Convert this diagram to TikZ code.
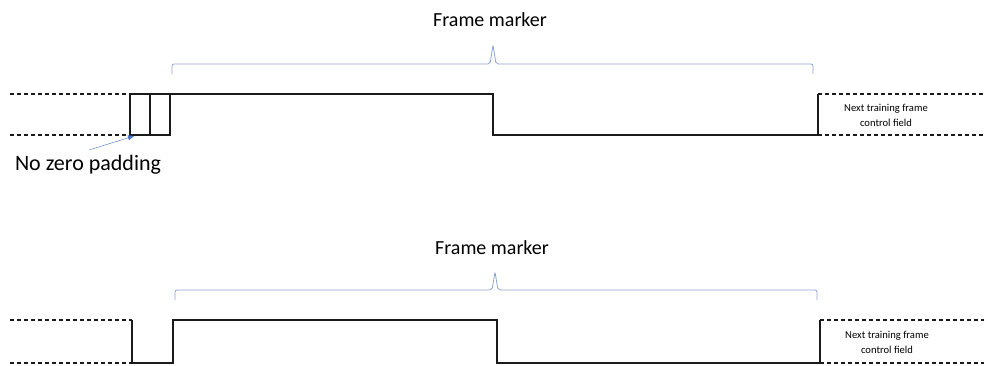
\documentclass[tikz,border=0pt]{standalone}
\usepackage{fontspec}
\setmainfont{Carlito}
\usetikzlibrary{positioning,arrows.meta}
\definecolor{cline}{HTML}{1A1A1A}
\definecolor{cbrace}{HTML}{8EA4CF}
\definecolor{carrow}{HTML}{4472C4}
\tikzset{
  sigline/.style={line width=1.2pt, color=cline},
  idleline/.style={sigline, dashed, dash pattern=on 4pt off 3pt},
  bracepath/.style={line width=0.8pt, color=cbrace, rounded corners=2pt},
  title/.style={font=\fontsize{20}{22}\selectfont},
  fieldtext/.style={font=\fontsize{10.6}{15}\selectfont, align=center}
}

\begin{document}
\begin{tikzpicture}[x=1pt, y=-1pt]
  \useasboundingbox (0,0) rectangle (984,365);

  % upper frame
  \node[title] (markA) at (490,20) {Frame marker};
  \draw[bracepath] (172,74) -- (172,64) -- (490,64) -- (493,45) -- (496,64) -- (813,64) -- (813,74);

  \draw[idleline] (10,94) -- (130,94);
  \draw[idleline] (10,135) -- (130,135);
  \draw[sigline] (130,135) -- (130,94) -- (493,94) -- (493,135) -- (818,135) -- (818,94);
  \draw[sigline] (130,135) -- (170,135) -- (170,94);
  \draw[sigline] (150,94) -- (150,135);
  \draw[idleline] (818,94) -- (984,94);
  \draw[idleline] (818,135) -- (984,135);
  \node[fieldtext] (nextA) at (886,115) {Next training frame\\control field};

  \node[title, font=\fontsize{22}{24}\selectfont] (pad) at (88,165) {No zero padding};
  \coordinate (corner) at (134,136);
  \draw[-{Triangle[length=6pt,width=5pt]}, thin, color=carrow] (89,150) -- (corner);

  % lower frame
  \node[title] (markB) at (492,248) {Frame marker};
  \draw[bracepath] (175,300) -- (175,290) -- (492,290) -- (495,272) -- (498,290) -- (817,290) -- (817,300);

  \draw[idleline] (10,320) -- (132,320);
  \draw[idleline] (10,363) -- (132,363);
  \draw[sigline] (132,320) -- (132,363) -- (173,363) -- (173,320) -- (497,320) -- (497,363) -- (820,363) -- (820,320);
  \draw[idleline] (820,320) -- (984,320);
  \draw[idleline] (820,363) -- (984,363);
  \node[fieldtext] (nextB) at (887,342) {Next training frame\\control field};
\end{tikzpicture}
\end{document}
